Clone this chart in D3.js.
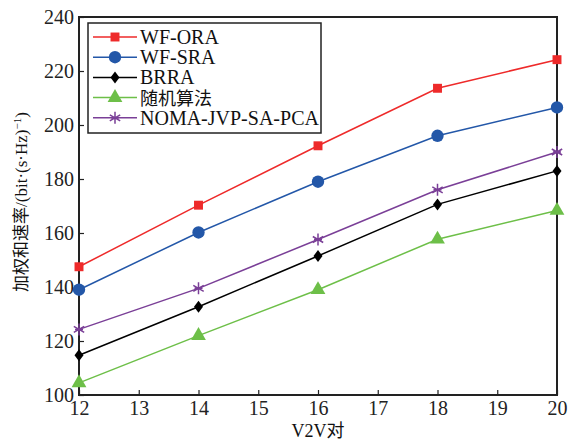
<!DOCTYPE html>
<html lang="zh">
<head>
<meta charset="UTF-8">
<script src="https://cdn.jsdelivr.net/npm/d3@7/dist/d3.min.js"></script>
<style>
  body { margin: 0; background: #fff; }
  text { font-family: "Liberation Serif", "Times New Roman", "Noto Sans CJK SC", serif; }
</style>
</head>
<body>
<script>
var xValues = [12, 14, 16, 18, 20];
var wfOra = [147.5, 170.3, 192.3, 213.6, 224.2];
var wfSra = [139.0, 160.2, 179.0, 196.0, 206.5];
var brra = [114.7, 132.7, 151.5, 170.6, 183.0];
var randomAlg = [104.5, 122.0, 139.0, 157.7, 168.3];
var noma = [124.3, 139.5, 157.6, 176.0, 190.0];
var seriesNames = ["WF-ORA", "WF-SRA", "BRRA", "随机算法", "NOMA-JVP-SA-PCA"];
var xTicks = [12, 13, 14, 15, 16, 17, 18, 19, 20];
var yTicks = [100, 120, 140, 160, 180, 200, 220, 240];

var width = 575, height = 441;
var plotLeft = 79, plotRight = 557, plotTop = 17, plotBottom = 395;

var series = [
  { name: seriesNames[0], values: wfOra, color: "#ee2a2a", marker: "square" },
  { name: seriesNames[1], values: wfSra, color: "#2357a8", marker: "circle" },
  { name: seriesNames[2], values: brra, color: "#000000", marker: "diamond" },
  { name: seriesNames[3], values: randomAlg, color: "#6dbf48", marker: "triangle" },
  { name: seriesNames[4], values: noma, color: "#7a3f97", marker: "star" }
];

var x = d3.scaleLinear().domain([12, 20]).range([plotLeft, plotRight]);
var y = d3.scaleLinear().domain([100, 240]).range([plotBottom, plotTop]);

var svg = d3.select("body").append("svg").attr("width", width).attr("height", height);

// axes, ticks inward
var xAxis = svg.append("g").attr("transform", "translate(0," + plotBottom + ")")
  .call(d3.axisBottom(x).tickValues(xTicks).tickSizeInner(-5).tickSizeOuter(0).tickPadding(6));
var yAxis = svg.append("g").attr("transform", "translate(" + plotLeft + ",0)")
  .call(d3.axisLeft(y).tickValues(yTicks).tickSizeInner(-5).tickSizeOuter(0).tickPadding(5));
[xAxis, yAxis].forEach(function (g) {
  g.attr("font-family", "Liberation Serif").attr("font-size", 20);
  g.select(".domain").remove();
  g.selectAll("line").attr("stroke", "#222").attr("stroke-width", 1.2);
  g.selectAll("text").attr("fill", "#222").style("font-size", "20px")
    .style("font-family", "'Liberation Serif', serif");
});

// frame
svg.append("rect").attr("x", plotLeft).attr("y", plotTop)
  .attr("width", plotRight - plotLeft).attr("height", plotBottom - plotTop)
  .attr("fill", "none").attr("stroke", "#222").attr("stroke-width", 2);

function markerPath(type) {
  if (type === "square") return d3.symbol(d3.symbolSquare, 80)();
  if (type === "circle") return d3.symbol(d3.symbolCircle, 120)();
  if (type === "diamond") return "M0,-6L4.5,0L0,6L-4.5,0Z";
  if (type === "triangle") return d3.symbol(d3.symbolTriangle, 95)();
  return "M0,-6V6M-5.2,-3L5.2,3M-5.2,3L5.2,-3M-4,0H4";
}

function drawMarker(g, type, color, px, py) {
  var p = g.append("path").attr("d", markerPath(type)).attr("transform", "translate(" + px + "," + py + ")");
  if (type === "star") p.attr("fill", "none").attr("stroke", color).attr("stroke-width", 1.5);
  else p.attr("fill", color);
}

var line = d3.line().x(function (d, i) { return x(xValues[i]); }).y(function (d) { return y(d); });

series.forEach(function (s) {
  var g = svg.append("g");
  g.append("path").attr("d", line(s.values)).attr("fill", "none").attr("stroke", s.color).attr("stroke-width", 1.5);
  s.values.forEach(function (v, i) { drawMarker(g, s.marker, s.color, x(xValues[i]), y(v)); });
});

// legend
var lg = svg.append("g");
lg.append("rect").attr("x", 88).attr("y", 23).attr("width", 233).attr("height", 110)
  .attr("fill", "#fff").attr("stroke", "#222").attr("stroke-width", 1.5);
series.forEach(function (s, i) {
  var ly = 37 + i * 20.2;
  lg.append("line").attr("x1", 93).attr("x2", 137).attr("y1", ly).attr("y2", ly)
    .attr("stroke", s.color).attr("stroke-width", 1.5);
  drawMarker(lg, s.marker, s.color, 115, ly);
  lg.append("text").attr("x", 140).attr("y", ly + 7).text(s.name)
    .style("font-size", i === 3 ? "18px" : "20px").attr("fill", "#111");
});

// axis titles
svg.append("text").attr("x", 318).attr("y", 437).attr("text-anchor", "middle")
  .style("font-size", "18px").attr("fill", "#111").text("V2V对");
var yt = svg.append("text").attr("transform", "translate(27," + 202 + ") rotate(-90)")
  .attr("text-anchor", "middle").style("font-size", "17px").attr("fill", "#111");
yt.append("tspan").text("加权和速率/(bit·(s·Hz)");
yt.append("tspan").attr("dy", -6).style("font-size", "11px").text("−1");
yt.append("tspan").attr("dy", 6).text(")");
</script>
</body>
</html>
